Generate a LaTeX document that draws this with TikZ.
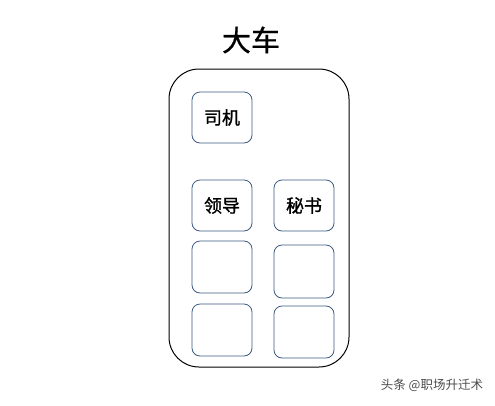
\documentclass[tikz,border=0pt]{standalone}
\usepackage{fontspec}
\newfontfamily\cjk{Noto Sans CJK SC}
\newfontfamily\cjkh[FakeBold=1.2]{Noto Sans CJK SC}
\newfontfamily\cjkt[FakeBold=0.6]{Noto Sans CJK SC}
\begin{document}
\begin{tikzpicture}[x=1pt,y=-1pt,
  seat/.style={draw=seatcol,line width=0.8pt,rounded corners=8pt},
  lbl/.style={font=\cjkh\fontsize{18}{18}\selectfont}]
\definecolor{seatcol}{HTML}{3C5A82}
\useasboundingbox (0,0) rectangle (495,405);
\node[font=\cjkt\fontsize{29}{29}\selectfont] (title) at (251,40) {大车};
\draw[line width=1pt,rounded corners=30pt] (169,69) rectangle (349,367);
\node[seat,minimum width=60pt,minimum height=51pt] (driver) at (222,117.5) {};
\node[lbl] at (driver) {司机};
\node[seat,minimum width=60pt,minimum height=51pt] (leader) at (222,205.5) {};
\node[lbl] at (leader) {领导};
\node[seat,minimum width=60pt,minimum height=51pt] (secr) at (304,205.5) {};
\node[lbl] at (secr) {秘书};
\node[seat,minimum width=60pt,minimum height=52pt] (s3l) at (222,267) {};
\node[seat,minimum width=60pt,minimum height=53pt] (s3r) at (304,271.5) {};
\node[seat,minimum width=60pt,minimum height=52pt] (s4l) at (222,330) {};
\node[seat,minimum width=60pt,minimum height=52pt] (s4r) at (304,332) {};
\node[font=\cjk\fontsize{12.5}{12.5}\selectfont,text=black!70] (wm) at (432,385) {头条 @职场升迁术};
\end{tikzpicture}
\end{document}
